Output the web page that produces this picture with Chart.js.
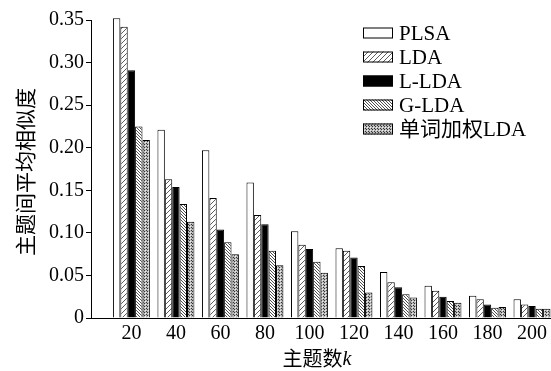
<!DOCTYPE html>
<html>
<head>
<meta charset="utf-8">
<script src="https://cdn.jsdelivr.net/npm/chart.js@4/dist/chart.umd.min.js"></script>
<style>
  html, body { margin: 0; padding: 0; background: #fff; }
  #wrap { width: 551px; height: 371px; position: relative; }
</style>
</head>
<body>
<div id="wrap"><canvas id="simChart"></canvas></div>
<script>
// topic counts k
const topicCounts = [20, 40, 60, 80, 100, 120, 140, 160, 180, 200];
const seriesNames = ['PLSA', 'LDA', 'L-LDA', 'G-LDA', '单词加权LDA'];
const plsa     = [0.352, 0.221, 0.197, 0.159, 0.102, 0.082, 0.054, 0.038, 0.026, 0.022];
const lda      = [0.342, 0.163, 0.141, 0.121, 0.086, 0.079, 0.042, 0.032, 0.022, 0.016];
const llda     = [0.291, 0.154, 0.104, 0.110, 0.081, 0.071, 0.036, 0.025, 0.016, 0.014];
const glda     = [0.225, 0.134, 0.089, 0.079, 0.066, 0.061, 0.028, 0.020, 0.012, 0.011];
const weighted = [0.209, 0.113, 0.075, 0.062, 0.053, 0.030, 0.024, 0.018, 0.013, 0.011];
const yTicks = [0, 0.05, 0.10, 0.15, 0.20, 0.25, 0.30, 0.35];

const SERIF = "Liberation Serif, Noto Sans CJK SC, serif";

function makePattern(size, drawFn) {
    const c = document.createElement('canvas');
    c.width = size; c.height = size;
    const g = c.getContext('2d');
    g.fillStyle = '#fff';
    g.fillRect(0, 0, size, size);
    drawFn(g, size);
    return g.createPattern(c, 'repeat');
}

// "/" hatch
const slashPattern = makePattern(5, (g, s) => {
    g.strokeStyle = '#333';
    g.lineWidth = 0.8;
    g.beginPath();
    g.moveTo(0, s); g.lineTo(s, 0);
    g.moveTo(-1, 1); g.lineTo(1, -1);
    g.moveTo(s - 1, s + 1); g.lineTo(s + 1, s - 1);
    g.stroke();
});

// "\" hatch, denser
const backPattern = makePattern(3, (g, s) => {
    g.strokeStyle = '#222';
    g.lineWidth = 0.8;
    g.beginPath();
    g.moveTo(0, 0); g.lineTo(s, s);
    g.moveTo(-1, s - 1); g.lineTo(1, s + 1);
    g.moveTo(s - 1, -1); g.lineTo(s + 1, 1);
    g.stroke();
});

// dotted fill
const dotPattern = makePattern(3, (g, s) => {
    g.fillStyle = '#bbb';
    g.fillRect(0, 0, s, s);
    g.fillStyle = '#333';
    g.fillRect(0, 0, 1, 1);
    g.fillRect(2, 2, 1, 1);
    g.fillStyle = '#eee';
    g.fillRect(1, 1, 1, 1);
});

const fills = ['#ffffff', slashPattern, '#000000', backPattern, dotPattern];
const allValues = [plsa, lda, llda, glda, weighted];

const datasets = seriesNames.map((name, i) => ({
    label: name,
    data: topicCounts.map((k, j) => ({ x: k, y: allValues[i][j] })),
    backgroundColor: fills[i],
    borderColor: '#000',
    borderWidth: 1,
    borderSkipped: 'bottom',
    categoryPercentage: 0.83,
    barPercentage: 1.0,
    clip: false
}));

// legend + axis titles drawn on top of the canvas
const annotate = {
    id: 'annotate',
    afterDraw(chart) {
        const ctx = chart.ctx;
        ctx.save();
        // legend
        const bx = 363, bw = 30, bh = 11;
        chart.data.datasets.forEach((ds, i) => {
            const cy = 33 + i * 24;
            ctx.fillStyle = ds.backgroundColor;
            ctx.fillRect(bx, cy - bh / 2, bw, bh);
            ctx.strokeStyle = '#000';
            ctx.lineWidth = 1;
            ctx.strokeRect(bx + 0.5, cy - bh / 2 + 0.5, bw - 1, bh - 1);
            ctx.fillStyle = '#000';
            ctx.font = '21px ' + SERIF;
            ctx.textAlign = 'left';
            ctx.textBaseline = 'middle';
            ctx.fillText(ds.label, bx + 36, cy + 1);
        });

        // x title: 主题数k (k italic)
        ctx.font = '20px ' + SERIF;
        const base = '主题数';
        const w1 = ctx.measureText(base).width;
        ctx.font = 'italic 20px ' + SERIF;
        const w2 = ctx.measureText('k').width;
        let x0 = 317 - (w1 + w2) / 2;
        ctx.textAlign = 'left';
        ctx.textBaseline = 'middle';
        ctx.font = '20px ' + SERIF;
        ctx.fillText(base, x0, 361);
        ctx.font = 'italic 20px ' + SERIF;
        ctx.fillText('k', x0 + w1, 360);

        // y title
        ctx.translate(27, 172);
        ctx.rotate(-Math.PI / 2);
        ctx.font = '21px ' + SERIF;
        ctx.textAlign = 'center';
        ctx.fillText('主题间平均相似度', 0, 0);
        ctx.restore();
    }
};

new Chart(document.getElementById('simChart'), {
    type: 'bar',
    data: { datasets: datasets },
    options: {
        responsive: true,
        maintainAspectRatio: false,
        animation: false,
        layout: { padding: { top: 20, right: 0, left: 0, bottom: 0 } },
        scales: {
            x: {
                type: 'linear',
                offset: false,
                min: 1.84,
                max: 208.1,
                afterBuildTicks: scale => {
                    scale.ticks = topicCounts.map(v => ({ value: v }));
                },
                afterFit: scale => { scale.height = 53; },
                grid: { display: false, drawTicks: false, offset: false },
                border: { display: true, color: '#000', width: 1 },
                ticks: {
                    autoSkip: false,
                    maxRotation: 0,
                    padding: 4,
                    color: '#000',
                    font: { family: SERIF, size: 20 },
                    callback: v => String(v)
                }
            },
            y: {
                min: 0,
                max: 0.35,
                afterBuildTicks: scale => {
                    scale.ticks = yTicks.map(v => ({ value: v }));
                },
                afterFit: scale => { scale.width = 91; },
                grid: { drawOnChartArea: false, drawTicks: true, tickLength: 5, color: '#000' },
                border: { display: true, color: '#000', width: 1 },
                ticks: {
                    padding: 2,
                    color: '#000',
                    font: { family: SERIF, size: 20 },
                    callback: v => v === 0 ? '0' : v.toFixed(2)
                }
            }
        },
        plugins: {
            legend: { display: false },
            tooltip: { enabled: false }
        }
    },
    plugins: [annotate]
});
</script>
</body>
</html>
